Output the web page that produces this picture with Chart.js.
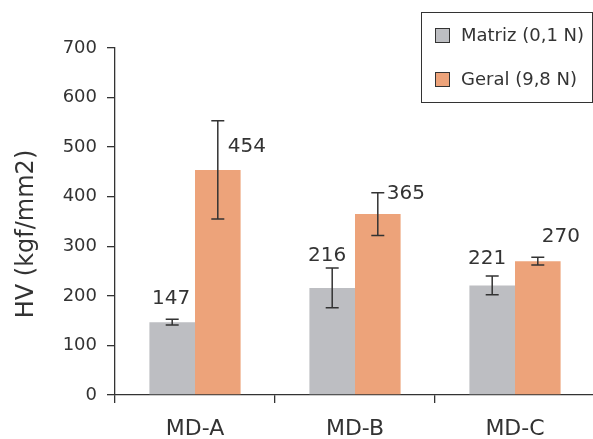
<!DOCTYPE html>
<html>
<head>
<meta charset="utf-8">
<script src="https://cdn.jsdelivr.net/npm/chart.js@4.4.1/dist/chart.umd.min.js"></script>
<style>
  html, body { margin: 0; padding: 0; background: #fff; overflow: hidden; }
  #wrap { width: 600px; height: 439px; }
</style>
</head>
<body>
<div id="wrap"><canvas id="c" width="600" height="439"></canvas></div>
<script>
// Vickers hardness per sample, matrix vs. overall load
const categories = ['MD-A', 'MD-B', 'MD-C'];
const seriesNames = ['Matriz (0,1 N)', 'Geral (9,8 N)'];
const matrizValues = [147, 216, 221];
const matrizErrors = [6, 40, 19];
const geralValues = [454, 365, 270];
const geralErrors = [99, 43, 8];
const yTicks = [0, 100, 200, 300, 400, 500, 600, 700];

const FONT = '"DejaVu Sans", "Liberation Sans", sans-serif';
const INK = '#333333';
const COLORS = ['#bdbec2', '#eda37a'];

// label placement next to each bar top (dx, dy in px)
const labelShift = [
  [[-1, -23], [-5, -32], [-5, -27]],
  [[29, -23], [28, -20], [23, -24]]
];

const errorBarsPlugin = {
  id: 'errorBars',
  afterDatasetsDraw(chart) {
    const { ctx } = chart;
    const y = chart.scales.y;
    ctx.save();
    ctx.strokeStyle = INK;
    ctx.lineWidth = 1.5;
    chart.data.datasets.forEach((ds, di) => {
      const meta = chart.getDatasetMeta(di);
      meta.data.forEach((bar, i) => {
        const v = ds.data[i], e = ds.errors[i];
        const x = bar.x;
        const yt = y.getPixelForValue(v + e);
        const yb = y.getPixelForValue(v - e);
        const hw = 6.5;
        ctx.beginPath();
        ctx.moveTo(x, yt); ctx.lineTo(x, yb);
        ctx.moveTo(x - hw, yt); ctx.lineTo(x + hw, yt);
        ctx.moveTo(x - hw, yb); ctx.lineTo(x + hw, yb);
        ctx.stroke();
      });
    });
    ctx.restore();
  }
};

const valueLabelsPlugin = {
  id: 'valueLabels',
  afterDatasetsDraw(chart) {
    const { ctx } = chart;
    ctx.save();
    ctx.fillStyle = INK;
    ctx.font = '20px ' + FONT;
    ctx.textAlign = 'center';
    ctx.textBaseline = 'middle';
    chart.data.datasets.forEach((ds, di) => {
      const meta = chart.getDatasetMeta(di);
      meta.data.forEach((bar, i) => {
        const [dx, dy] = labelShift[di][i];
        ctx.fillText(String(ds.data[i]), bar.x + dx, bar.y + dy);
      });
    });
    ctx.restore();
  }
};

const legendBoxPlugin = {
  id: 'legendBox',
  afterDraw(chart) {
    const { ctx } = chart;
    ctx.save();
    ctx.strokeStyle = INK;
    ctx.lineWidth = 1;
    ctx.strokeRect(421.5, 12.5, 171, 90);
    ctx.font = '18px ' + FONT;
    ctx.textAlign = 'left';
    ctx.textBaseline = 'middle';
    chart.data.datasets.forEach((ds, di) => {
      const sy = 28 + di * 44;
      ctx.fillStyle = ds.backgroundColor;
      ctx.fillRect(435, sy, 15, 15);
      ctx.strokeRect(435.5, sy + 0.5, 14, 14);
      ctx.fillStyle = INK;
      ctx.fillText(ds.label, 461, sy + 8);
    });
    ctx.restore();
  }
};

const yTitlePlugin = {
  id: 'yTitle',
  afterDraw(chart) {
    const { ctx } = chart;
    ctx.save();
    ctx.fillStyle = INK;
    ctx.font = '24px ' + FONT;
    ctx.textAlign = 'center';
    ctx.textBaseline = 'middle';
    ctx.translate(27, 234);
    ctx.rotate(-Math.PI / 2);
    ctx.fillText('HV (kgf/mm2)', 0, 0);
    ctx.restore();
  }
};

new Chart(document.getElementById('c'), {
  type: 'bar',
  data: {
    labels: categories,
    datasets: [
      { label: seriesNames[0], data: matrizValues, errors: matrizErrors,
        backgroundColor: COLORS[0], borderWidth: 0,
        categoryPercentage: 0.57, barPercentage: 1.0 },
      { label: seriesNames[1], data: geralValues, errors: geralErrors,
        backgroundColor: COLORS[1], borderWidth: 0,
        categoryPercentage: 0.57, barPercentage: 1.0 }
    ]
  },
  options: {
    responsive: false,
    animation: false,
    devicePixelRatio: 1,
    layout: { padding: { left: 0, top: 48, right: 5, bottom: 0 } },
    plugins: { legend: { display: false }, tooltip: { enabled: false } },
    scales: {
      x: {
        grid: { display: true, drawOnChartArea: false, drawTicks: true,
                tickLength: 8, color: INK, lineWidth: 1.3, offset: true },
        border: { display: true, color: INK, width: 1.3 },
        ticks: { color: INK, font: { family: FONT, size: 22 }, padding: 13 },
        afterFit(s) { s.height = 44; }
      },
      y: {
        min: 0, max: 700,
        afterBuildTicks(s) { s.ticks = yTicks.map(v => ({ value: v })); },
        grid: { display: true, drawOnChartArea: false, drawTicks: true,
                tickLength: 8, color: INK, lineWidth: 1.3 },
        border: { display: true, color: INK, width: 1.3 },
        ticks: { color: INK, font: { family: FONT, size: 18 }, padding: 10 },
        afterFit(s) { s.width = 115; }
      }
    }
  },
  plugins: [errorBarsPlugin, valueLabelsPlugin, legendBoxPlugin, yTitlePlugin]
});
</script>
</body>
</html>
